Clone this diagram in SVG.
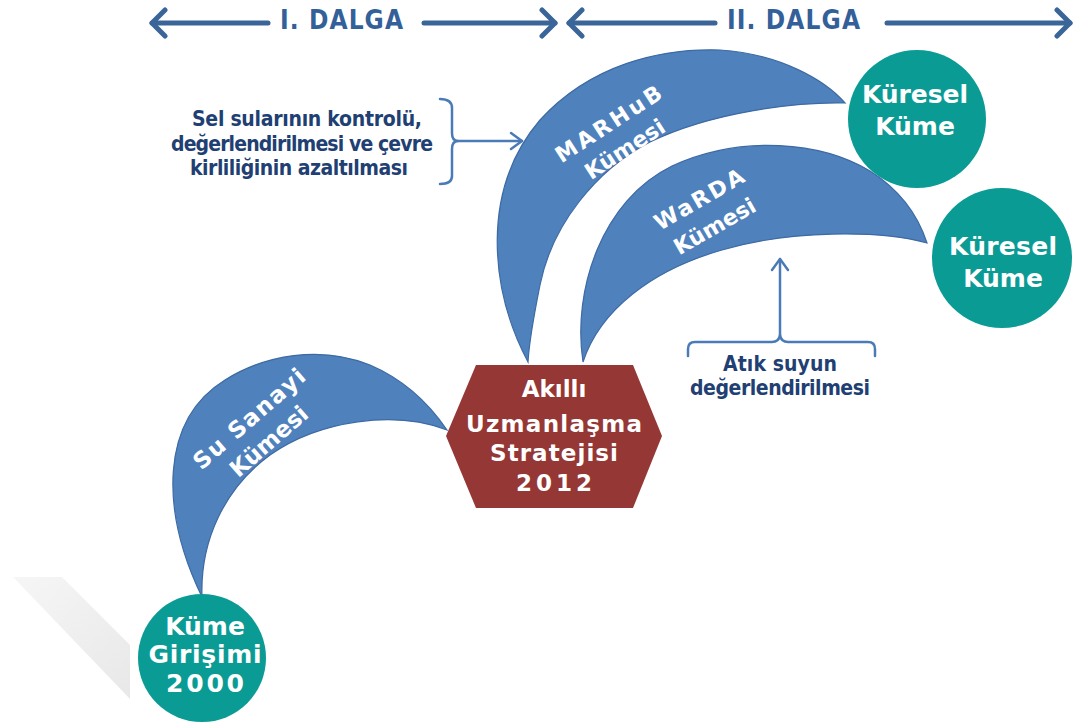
<svg xmlns="http://www.w3.org/2000/svg" width="1074" height="722" viewBox="0 0 1074 722">
<defs>
<marker id="bigHead" markerUnits="userSpaceOnUse" markerWidth="20" markerHeight="32" viewBox="0 0 20 32" refX="16" refY="16" orient="auto-start-reverse">
<path d="M3,3 L16,16 L3,29" fill="none" stroke="#3A6598" stroke-width="5" stroke-linecap="round" stroke-linejoin="round"/>
</marker>
<marker id="smallHead" markerUnits="userSpaceOnUse" markerWidth="16" markerHeight="20" viewBox="0 0 16 20" refX="13" refY="10" orient="auto">
<path d="M2,2 L13,10 L2,18" fill="none" stroke="#4A7BB7" stroke-width="2.5" stroke-linecap="round" stroke-linejoin="round"/>
</marker>
<linearGradient id="shade" x1="0" y1="0" x2="1" y2="1">
<stop offset="0" stop-color="#f6f6f6"/>
<stop offset="1" stop-color="#e8e8e8"/>
</linearGradient>
</defs>
<style>
.wave{fill:none;stroke:#3A6598;stroke-width:5;stroke-linecap:round}
.brk{fill:none;stroke:#4A7BB7;stroke-width:2.5;stroke-linecap:round;stroke-linejoin:round}
.wt{font-family:"Liberation Sans Narrow","DejaVu Sans Condensed","Liberation Sans",sans-serif;font-weight:bold;font-size:26px;fill:#34609A}
.nt{font-family:"Liberation Sans Narrow","DejaVu Sans Condensed","Liberation Sans",sans-serif;font-weight:bold;font-size:21px;fill:#213F72;text-anchor:middle}
.cres{fill:#4F81BD;stroke:#3D6AA3;stroke-width:1.2}
.w{font-family:"DejaVu Sans","Liberation Sans",sans-serif;font-weight:bold;fill:#ffffff;text-anchor:middle}
.cl{fill:#0B9B95}
</style>
<rect width="1074" height="722" fill="#ffffff"/>
<polygon points="13,577 62,577 130,645 130,699" fill="url(#shade)"/>

<g id="connectors">
<line class="wave" x1="152" y1="23" x2="268" y2="23" marker-start="url(#bigHead)"/>
<line class="wave" x1="424" y1="23" x2="555" y2="23" marker-end="url(#bigHead)"/>
<line class="wave" x1="569" y1="23" x2="715" y2="23" marker-start="url(#bigHead)"/>
<line class="wave" x1="887" y1="23" x2="1070" y2="23" marker-end="url(#bigHead)"/>
<path class="brk" d="M440,99 Q452,99 452,108 L452,133 Q452,141 458,141 Q452,141 452,149 L452,176 Q452,184 440,184"/>
<line class="brk" x1="458" y1="141" x2="522" y2="141" marker-end="url(#smallHead)"/>
<path class="brk" d="M688,356 L688,349 Q688,342 695,342 L772,342 Q779,342 780,335 Q781,342 788,342 L868,342 Q875,342 875,349 L875,356"/>
<line class="brk" x1="780" y1="335" x2="780" y2="259" marker-end="url(#smallHead)"/>
</g>

<g id="wave1-label"><text class="wt" x="280" y="29" textLength="123">I. DALGA</text></g>
<g id="wave2-label"><text class="wt" x="727" y="29" textLength="133">II. DALGA</text></g>

<g id="note-flood">
<text class="nt" x="307" y="126" textLength="230">Sel sularının kontrolü,</text>
<text class="nt" x="302" y="151" textLength="262">değerlendirilmesi ve  çevre</text>
<text class="nt" x="299" y="175" textLength="218">kirliliğinin azaltılması</text>
</g>

<g id="note-waste">
<text class="nt" x="780" y="371" textLength="114">Atık suyun</text>
<text class="nt" x="780" y="395" textLength="180">değerlendirilmesi</text>
</g>

<g id="su-sanayi">
<path class="cres" d="M202,597 C160,510 160,420 225,380 C265,355 320,345 370,365 C405,380 430,405 447,430 C395,410 320,420 270,455 C225,488 200,540 202,597 Z"/>
<g transform="translate(259,430) rotate(-41)">
<text class="w" x="0" y="-7" font-size="23" textLength="140">Su Sanayi</text>
<text class="w" x="0" y="23" font-size="23">Kümesi</text>
</g>
</g>

<g id="marhub">
<path class="cres" d="M528,362 C490,290 480,190 540,120 C590,65 660,48 720,50 C780,54 825,80 845,103 C795,102 712,112 650,142 C596,170 552,225 540,285 C533,320 529,345 528,362 Z"/>
<g transform="translate(617,137) rotate(-33)">
<text class="w" x="0" y="-8" font-size="22" textLength="122">MARHuB</text>
<text class="w" x="0" y="22" font-size="22">Kümesi</text>
</g>
</g>

<g id="warda">
<path class="cres" d="M583,362 C572,290 602,200 672,166 C742,134 822,142 870,171 C900,190 918,215 927,243 C880,230 790,230 722,250 C652,270 600,310 583,362 Z"/>
<g transform="translate(707,213) rotate(-30)">
<text class="w" x="0" y="-8" font-size="22" textLength="100">WaRDA</text>
<text class="w" x="0" y="23" font-size="22">Kümesi</text>
</g>
</g>

<g id="akilli-uzmanlasma">
<polygon points="476,365 633,365 662,436 633,508 476,508 446,436" fill="#953735"/>
<text class="w" x="554" y="397" font-size="23">Akıllı</text>
<text class="w" x="554" y="432" font-size="23" textLength="176">Uzmanlaşma</text>
<text class="w" x="554" y="461" font-size="23" textLength="128">Stratejisi</text>
<text class="w" x="554" y="491" font-size="23" textLength="76">2012</text>
</g>

<g id="kume-girisimi">
<circle class="cl" cx="202" cy="658" r="64"/>
<text class="w" x="205" y="635" font-size="25">Küme</text>
<text class="w" x="205" y="663" font-size="25" textLength="113">Girişimi</text>
<text class="w" x="205" y="692" font-size="25" textLength="78">2000</text>
</g>

<g id="kuresel-kume-1">
<circle class="cl" cx="917" cy="119" r="69"/>
<text class="w" x="915" y="103" font-size="25" textLength="106">Küresel</text>
<text class="w" x="915" y="135" font-size="25">Küme</text>
</g>

<g id="kuresel-kume-2">
<circle class="cl" cx="1002" cy="258" r="70"/>
<text class="w" x="1003" y="255" font-size="25" textLength="108">Küresel</text>
<text class="w" x="1003" y="287" font-size="25">Küme</text>
</g>
</svg>
